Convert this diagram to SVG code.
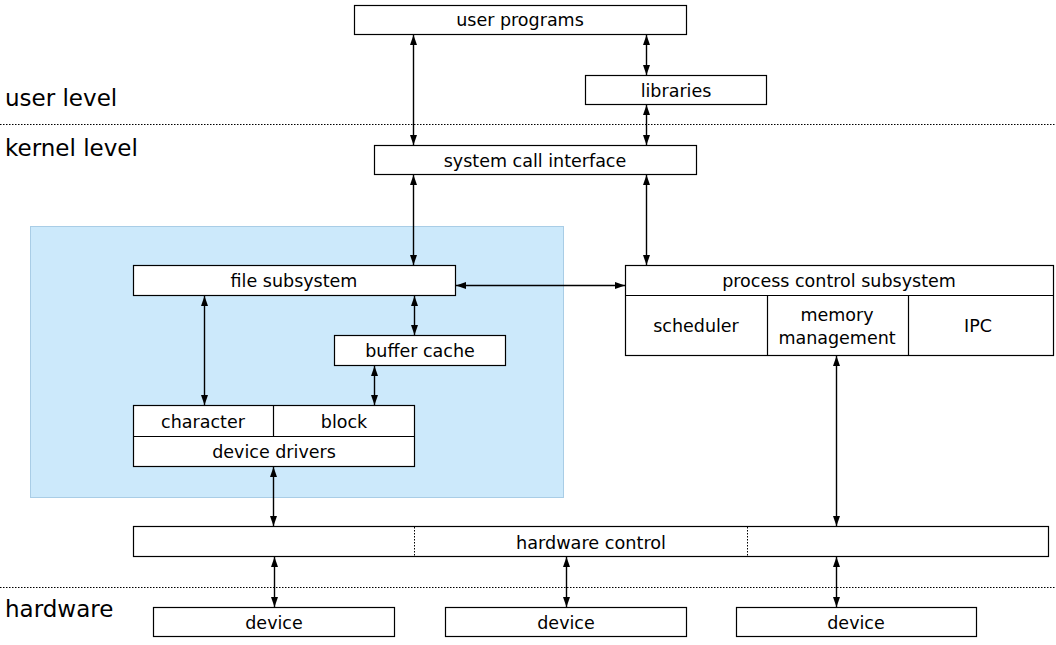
<svg xmlns="http://www.w3.org/2000/svg" width="1056" height="645" viewBox="0 0 1056 645">
<defs>
<marker id="ah" viewBox="0 0 10 7" refX="10" refY="3.5" markerWidth="10" markerHeight="7" markerUnits="userSpaceOnUse" orient="auto-start-reverse">
<path d="M0,0 L10,3.5 L0,7 Z" fill="#000"/>
</marker>
</defs>
<style>
.box{fill:#fff;stroke:#000;stroke-width:1.2}
.div{stroke:#000;stroke-width:1.2}
.dot{stroke:#000;stroke-width:1;stroke-dasharray:1.5 1.5}
.lbl{font-family:"DejaVu Sans",Verdana,sans-serif;font-size:17.5px;fill:#000;text-anchor:middle}
.lvl{font-family:"DejaVu Sans",Verdana,sans-serif;font-size:23px;fill:#000}
.arr{stroke:#000;stroke-width:1.4;fill:none;marker-start:url(#ah);marker-end:url(#ah)}
</style>
<rect width="1056" height="645" fill="#fff"/>
<g id="levels">
<line class="dot" x1="0" y1="124.5" x2="1056" y2="124.5"/>
<line class="dot" x1="0" y1="587.5" x2="1056" y2="587.5"/>
<text class="lvl" x="5" y="106">user level</text>
<text class="lvl" x="5" y="156">kernel level</text>
<text class="lvl" x="5" y="617">hardware</text>
</g>
<rect id="kernel-area" x="30.5" y="226.5" width="533" height="271" fill="#cce9fb" stroke="#a9cde6" stroke-width="1"/>
<g id="user-programs">
<rect class="box" x="354.5" y="5.5" width="332" height="29"/>
<text class="lbl" x="520" y="26">user programs</text>
</g>
<g id="libraries">
<rect class="box" x="585.5" y="75.5" width="181" height="29"/>
<text class="lbl" x="676" y="97">libraries</text>
</g>
<g id="system-call-interface">
<rect class="box" x="374.5" y="145.5" width="322" height="29"/>
<text class="lbl" x="535" y="167">system call interface</text>
</g>
<g id="file-subsystem">
<rect class="box" x="133.5" y="265.5" width="322" height="30"/>
<text class="lbl" x="294" y="287">file subsystem</text>
</g>
<g id="buffer-cache">
<rect class="box" x="334.5" y="335.5" width="171" height="30"/>
<text class="lbl" x="420" y="357">buffer cache</text>
</g>
<g id="device-drivers">
<rect class="box" x="133.5" y="405.5" width="281" height="61"/>
<line class="div" x1="133.5" y1="436.5" x2="414.5" y2="436.5"/>
<line class="div" x1="273.5" y1="405.5" x2="273.5" y2="436.5"/>
<text class="lbl" x="203" y="428">character</text>
<text class="lbl" x="344" y="428">block</text>
<text class="lbl" x="274" y="458">device drivers</text>
</g>
<g id="process-control-subsystem">
<rect class="box" x="625.5" y="265.5" width="428" height="90"/>
<line class="div" x1="625.5" y1="295.5" x2="1053.5" y2="295.5"/>
<line class="div" x1="767.5" y1="295.5" x2="767.5" y2="355.5"/>
<line class="div" x1="908.5" y1="295.5" x2="908.5" y2="355.5"/>
<text class="lbl" x="839" y="287">process control subsystem</text>
<text class="lbl" x="696" y="332">scheduler</text>
<text class="lbl" x="837" y="321">memory</text>
<text class="lbl" x="837" y="344">management</text>
<text class="lbl" x="978" y="332">IPC</text>
</g>
<g id="hardware-control">
<rect class="box" x="133.5" y="526.5" width="915" height="30"/>
<line class="dot" x1="414.5" y1="527" x2="414.5" y2="556"/>
<line class="dot" x1="747.5" y1="527" x2="747.5" y2="556"/>
<text class="lbl" x="591" y="549" textLength="150" lengthAdjust="spacingAndGlyphs">hardware control</text>
</g>
<g id="device-1">
<rect class="box" x="153.5" y="607.5" width="241" height="29"/>
<text class="lbl" x="274" y="629">device</text>
</g>
<g id="device-2">
<rect class="box" x="445.5" y="607.5" width="241" height="29"/>
<text class="lbl" x="566" y="629">device</text>
</g>
<g id="device-3">
<rect class="box" x="736.5" y="607.5" width="240" height="29"/>
<text class="lbl" x="856" y="629">device</text>
</g>
<g id="connectors">
<line class="arr" x1="413.5" y1="35" x2="413.5" y2="145"/>
<line class="arr" x1="646.5" y1="35" x2="646.5" y2="75"/>
<line class="arr" x1="646.5" y1="105" x2="646.5" y2="145"/>
<line class="arr" x1="413.5" y1="175" x2="413.5" y2="265"/>
<line class="arr" x1="646.5" y1="175" x2="646.5" y2="265"/>
<line class="arr" x1="456" y1="285.5" x2="625" y2="285.5"/>
<line class="arr" x1="204.5" y1="296" x2="204.5" y2="405"/>
<line class="arr" x1="414.5" y1="296" x2="414.5" y2="335"/>
<line class="arr" x1="374.5" y1="366" x2="374.5" y2="405"/>
<line class="arr" x1="273.5" y1="467" x2="273.5" y2="526"/>
<line class="arr" x1="836.5" y1="356" x2="836.5" y2="526"/>
<line class="arr" x1="274.5" y1="557" x2="274.5" y2="607"/>
<line class="arr" x1="566.5" y1="557" x2="566.5" y2="607"/>
<line class="arr" x1="836.5" y1="557" x2="836.5" y2="607"/>
</g>
</svg>
